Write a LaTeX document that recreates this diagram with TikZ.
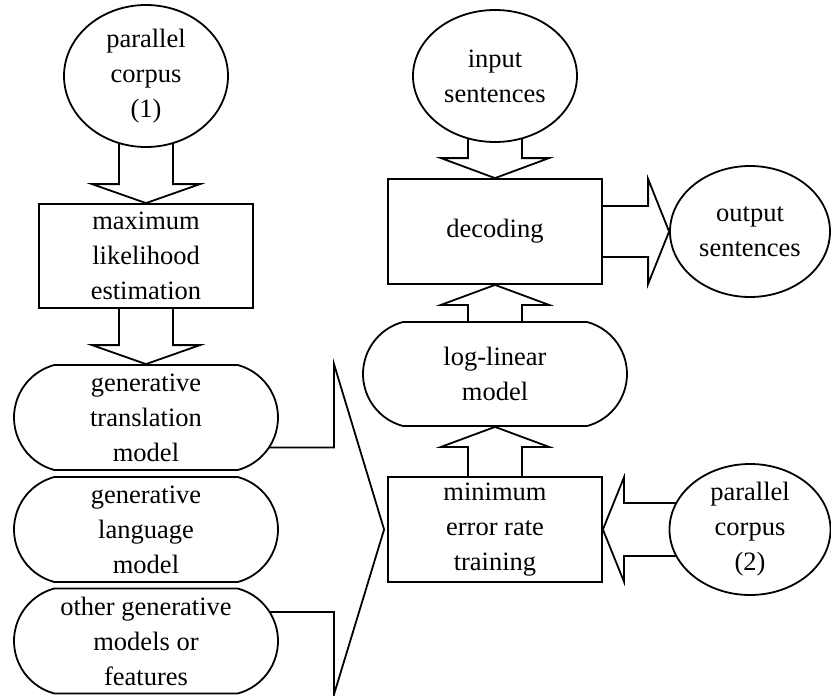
\documentclass[tikz,border=0pt]{standalone}
\usepackage{fontspec}
\setmainfont{Liberation Serif}
\usetikzlibrary{shapes,backgrounds,calc}

\tikzset{
  oval/.style={ellipse,draw,fill=white,inner sep=-2pt,align=center},
  box/.style={rectangle,draw,fill=white,inner sep=0pt,minimum width=214,minimum height=105,align=center},
  model/.style={rounded rectangle,rounded rectangle arc length=150,draw,fill=white,inner sep=0pt,minimum width=264,minimum height=105,align=center},
  blockarrow/.style={draw,line width=1.8pt,miter limit=20},
}

\begin{document}
\begin{tikzpicture}[x=1pt,y=-1pt,line width=1.8pt,font=\fontsize{26.5}{35}\selectfont]
                \useasboundingbox (0,0) rectangle (831,696);
                % left column
                \node[oval,minimum width=164,minimum height=142] (pc1) at (146,76) {parallel\\corpus\\(1)};
                \node[box,minimum height=104] (mle) at (146,256) {maximum\\likelihood\\estimation};
                \node[model] (gtm) at (146,417.5) {generative\\translation\\model};
                \node[model] (glm) at (146,529.5) {generative\\language\\model};
                \node[model] (other) at (146,641) {other generative\\models or\\features};
                % right column
                \node[oval,minimum width=164,minimum height=132] (input) at (495,76) {input\\sentences};
                \node[box] (dec) at (495,231.5) {decoding};
                \node[oval,minimum width=160,minimum height=131] (output) at (750,231.5) {output\\sentences};
                \node[model,minimum height=104] (llm) at (495,374) {log-linear\\model};
                \node[box] (mert) at (495,529.5) {minimum\\error rate\\training};
                \node[oval,minimum width=161,minimum height=131] (pc2) at (750,529.5) {parallel\\corpus\\(2)};
                % block arrows
                \begin{scope}[on background layer]
                \path[blockarrow] ($(pc1.center)+(-27,0)$) |- ($(mle.north)+(-54,-19)$) -- (mle.north) -- ($(mle.north)+(54,-19)$) -| ($(pc1.center)+(27,0)$);
                \path[blockarrow] ($(mle.center)+(-27,0)$) |- ($(gtm.north)+(-54,-19)$) -- (gtm.north) -- ($(gtm.north)+(54,-19)$) -| ($(mle.center)+(27,0)$);
                \path[blockarrow] ($(input.center)+(-27,0)$) |- ($(dec.north)+(-54,-20)$) -- (dec.north) -- ($(dec.north)+(54,-20)$) -| ($(input.center)+(27,0)$);
                \path[blockarrow] ($(llm.center)+(-27,0)$) |- ($(dec.south)+(-54,20)$) -- (dec.south) -- ($(dec.south)+(54,20)$) -| ($(llm.center)+(27,0)$);
                \path[blockarrow] ($(mert.center)+(-27,0)$) |- ($(llm.south)+(-54,20)$) -- (llm.south) -- ($(llm.south)+(54,20)$) -| ($(mert.center)+(27,0)$);
                \path[blockarrow] ($(dec.center)+(0,-25.5)$) -| ($(output.west)+(-21,-52.5)$) -- (output.west) -- ($(output.west)+(-21,52.5)$) |- ($(dec.center)+(0,25.5)$);
                \path[blockarrow] ($(pc2.center)+(0,-26.5)$) -| ($(mert.east)+(21,-52)$) -- (mert.east) -- ($(mert.east)+(21,52)$) |- ($(pc2.center)+(0,26.5)$);
                \path[blockarrow] ($(gtm.center)+(0,30)$) -| ($(gtm.north)+(188,0)$) -- ($(mert.west)+(-3,0)$) -- ($(other.south)+(188,0)$) |- ($(other.center)+(0,-29)$);
                \end{scope}
            \end{tikzpicture}
\end{document}
